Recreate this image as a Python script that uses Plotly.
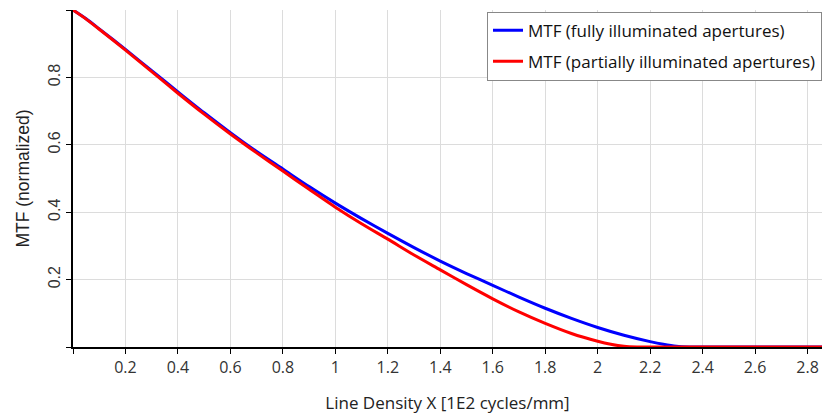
import plotly.graph_objects as go

x_blue = [0, 0.05, 0.1, 0.2, 0.3, 0.4, 0.5, 0.6, 0.7, 0.8, 0.9, 1.0, 1.1, 1.2, 1.3, 1.4, 1.5, 1.6, 1.7, 1.8, 1.9, 2.0, 2.1, 2.2, 2.25, 2.3, 2.35, 2.4, 2.6, 2.855]
y_blue = [1.0, 0.974, 0.944, 0.883, 0.820, 0.757, 0.695, 0.636, 0.580, 0.528, 0.476, 0.427, 0.381, 0.337, 0.295, 0.255, 0.218, 0.183, 0.148, 0.115, 0.085, 0.058, 0.035, 0.016, 0.008, 0.002, 0, 0, 0, 0]

x_red = [0, 0.05, 0.1, 0.2, 0.3, 0.4, 0.5, 0.6, 0.7, 0.8, 0.9, 1.0, 1.1, 1.2, 1.3, 1.4, 1.5, 1.6, 1.7, 1.8, 1.9, 2.0, 2.05, 2.1, 2.15, 2.2, 2.4, 2.6, 2.855]
y_red = [1.0, 0.973, 0.943, 0.881, 0.817, 0.753, 0.691, 0.632, 0.576, 0.522, 0.468, 0.415, 0.366, 0.320, 0.273, 0.229, 0.185, 0.143, 0.104, 0.070, 0.040, 0.017, 0.008, 0.002, 0, 0, 0, 0, 0]

x_ticks = [0, 0.2, 0.4, 0.6, 0.8, 1, 1.2, 1.4, 1.6, 1.8, 2, 2.2, 2.4, 2.6, 2.8]
x_labels = ["", "0.2", "0.4", "0.6", "0.8", "1", "1.2", "1.4", "1.6", "1.8", "2", "2.2", "2.4", "2.6", "2.8"]
y_ticks = [0, 0.2, 0.4, 0.6, 0.8, 1.0]
y_labels = ["", "0.2", "0.4", "0.6", "0.8", ""]

fig = go.Figure()
fig.add_trace(go.Scatter(x=x_blue, y=y_blue, mode="lines", line=dict(color="#0000ff", width=3, shape="spline", smoothing=0.8),
                         name="MTF (fully illuminated apertures)", legendgroup="a"))
fig.add_trace(go.Scatter(x=x_red, y=y_red, mode="lines", line=dict(color="#ff0000", width=3, shape="spline", smoothing=0.8),
                         name="MTF (partially illuminated apertures)", legendgroup="b"))

fig.update_layout(
    width=823, height=420,
    margin=dict(l=73, r=1, t=10, b=73),
    paper_bgcolor="white", plot_bgcolor="white",
    font=dict(family="Open Sans, Noto Sans, sans-serif", size=16, color="#222"),
    legend=dict(x=1, y=0.995, xanchor="right", yanchor="top", bgcolor="white",
                bordercolor="#888", borderwidth=1, font=dict(size=17, color="#111"),
                tracegroupgap=6, itemwidth=30),
    xaxis=dict(range=[0, 2.855], tickvals=x_ticks, ticktext=x_labels, showgrid=True, gridcolor="#dcdcdc",
               showline=True, linecolor="black", linewidth=1.5, ticks="outside", ticklen=5, tickcolor="black",
               zeroline=False, tickfont=dict(size=16, color="#333"),
               title=dict(text="Line Density X [1E2 cycles/mm]", font=dict(size=17, color="#222"), standoff=20)),
    yaxis=dict(range=[0, 1.0], tickvals=y_ticks, ticktext=y_labels, showgrid=True, gridcolor="#dcdcdc",
               showline=True, linecolor="black", linewidth=1.5, ticks="outside", ticklen=5, tickcolor="black",
               zeroline=False, tickangle=-90, tickfont=dict(family="Liberation Sans, Arial, sans-serif", size=16, color="#333"),
               title=dict(text="MTF (normalized)", font=dict(family="Liberation Sans, Arial, sans-serif", size=17.5, color="#222"), standoff=12)),
)

fig.write_html("out.html")
